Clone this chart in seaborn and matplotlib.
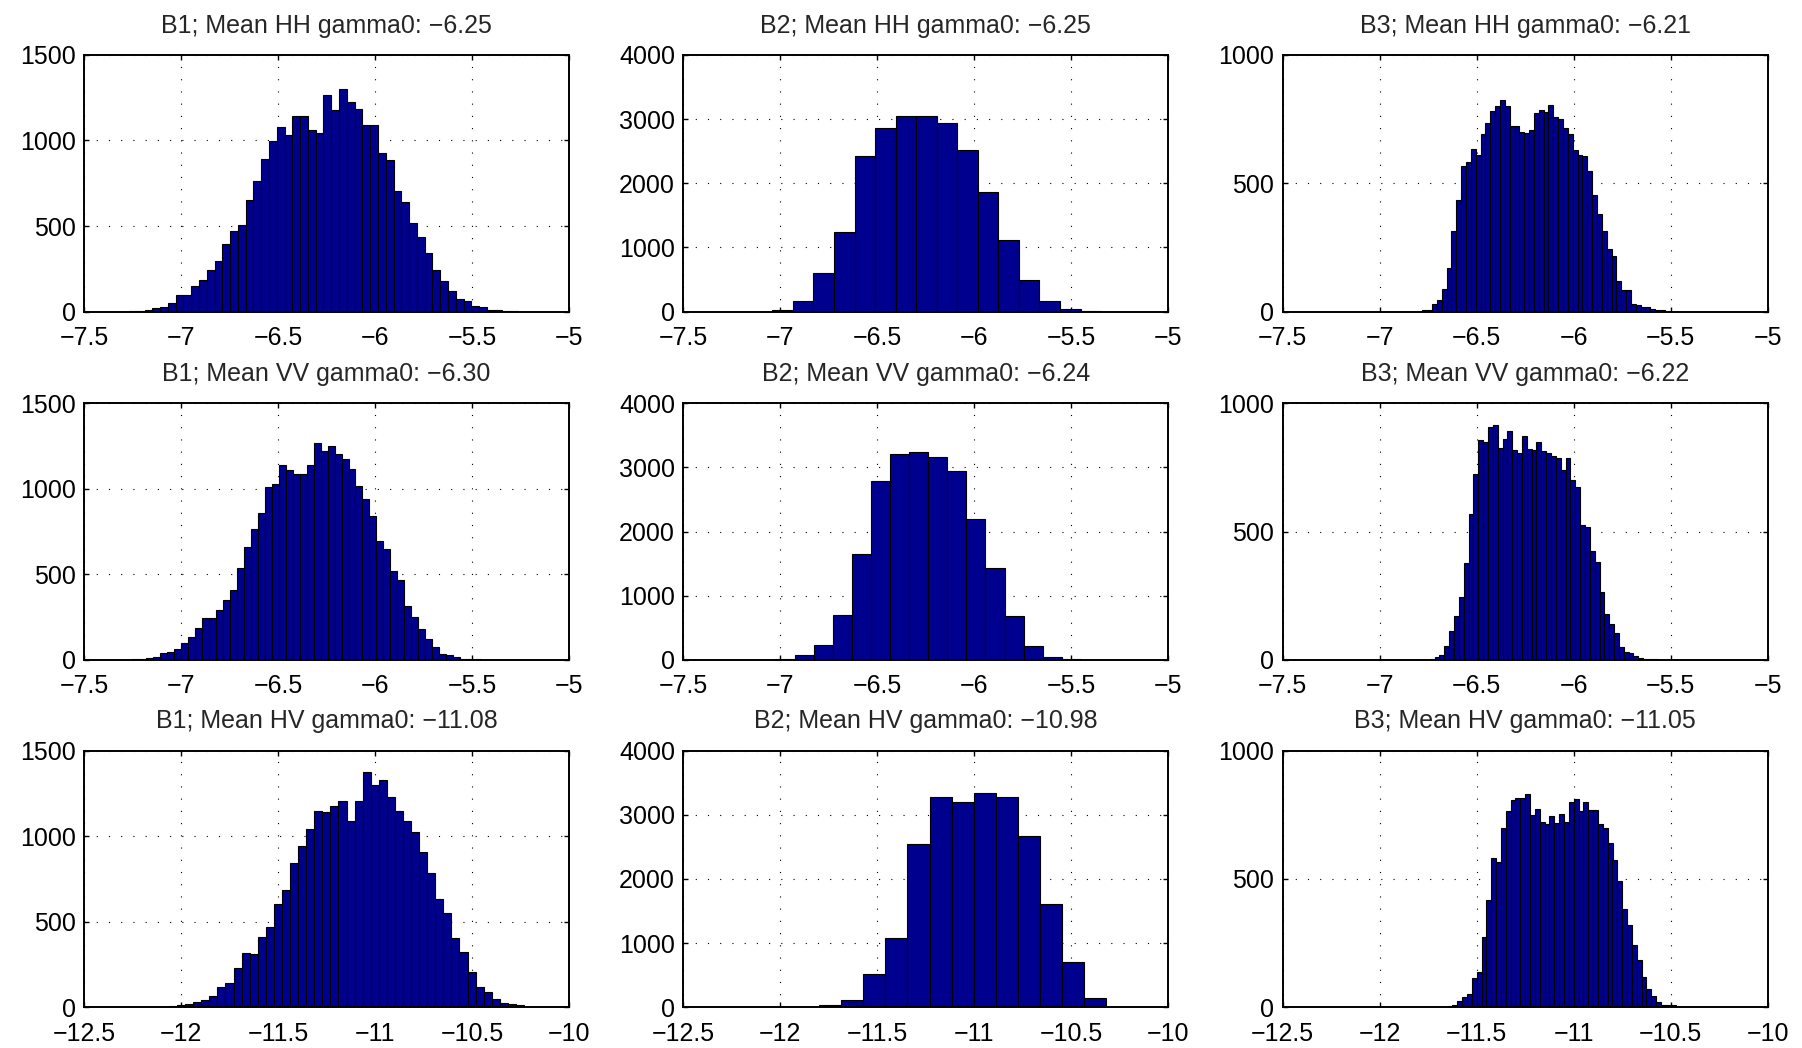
import numpy as np
import pandas as pd
import matplotlib
matplotlib.use("Agg")
import matplotlib.pyplot as plt
import seaborn as sns

# Panel titles, row by row
titles = [
    "B1; Mean HH gamma0: \u22126.25", "B2; Mean HH gamma0: \u22126.25", "B3; Mean HH gamma0: \u22126.21",
    "B1; Mean VV gamma0: \u22126.30", "B2; Mean VV gamma0: \u22126.24", "B3; Mean VV gamma0: \u22126.22",
    "B1; Mean HV gamma0: \u221211.08", "B2; Mean HV gamma0: \u221210.98", "B3; Mean HV gamma0: \u221211.05",
]

# Histogram data: left edge of first bin, bin width, counts per bin
b1_hh_start, b1_hh_width = -7.268, 0.0401
b1_hh_counts = [1, 4, 10, 20, 25, 50, 97, 97, 152, 185, 242, 298, 394, 468, 508, 651, 766, 892,
                999, 1077, 1033, 1142, 1144, 1062, 1044, 1264, 1177, 1300, 1224, 1186, 1089, 1089,
                929, 885, 705, 641, 518, 434, 341, 245, 177, 119, 74, 62, 33, 27, 10, 6, 3, 1]

b2_hh_start, b2_hh_width = -7.041, 0.1059
b2_hh_counts = [21, 166, 603, 1242, 2426, 2868, 3049, 3044, 2935, 2519, 1860, 1112, 494, 166, 36, 10]

b3_hh_start, b3_hh_width = -6.780, 0.025
b3_hh_counts = [5, 6, 30, 44, 87, 168, 314, 435, 566, 581, 635, 612, 692, 734, 783, 803, 823, 800,
                723, 723, 699, 694, 709, 774, 787, 779, 804, 757, 752, 717, 691, 631, 612, 605, 547,
                453, 381, 312, 242, 217, 118, 83, 83, 30, 26, 19, 16, 10, 6, 4, 3]

b1_vv_start, b1_vv_width = -7.251, 0.03595
b1_vv_counts = [2, 2, 10, 16, 37, 43, 66, 96, 135, 188, 246, 246, 291, 350, 406, 537, 658, 766, 857,
                1008, 1029, 1139, 1109, 1086, 1086, 1137, 1266, 1221, 1250, 1201, 1172, 1113, 1014,
                939, 840, 697, 648, 521, 469, 314, 248, 178, 121, 74, 35, 29, 16, 6, 4, 2]

b2_vv_start, b2_vv_width = -7.025, 0.0984
b2_vv_counts = [16, 73, 224, 693, 1646, 2786, 3208, 3245, 3156, 2948, 2193, 1427, 682, 214, 36, 10]

b3_vv_start, b3_vv_width = -6.792, 0.025
b3_vv_counts = [1, 1, 4, 10, 18, 52, 113, 169, 245, 376, 568, 724, 855, 849, 906, 914, 827, 861, 893,
                816, 805, 874, 820, 818, 850, 814, 807, 793, 785, 740, 785, 700, 672, 526, 517, 424,
                382, 266, 180, 138, 105, 49, 30, 27, 16, 8, 4, 4, 3, 1]

b1_hv_start, b1_hv_width = -12.2285, 0.0416
b1_hv_counts = [2, 2, 4, 4, 6, 10, 16, 29, 45, 64, 121, 140, 228, 316, 310, 413, 471, 602, 684, 844,
                941, 1042, 1149, 1142, 1177, 1204, 1089, 1204, 1375, 1297, 1331, 1231, 1147, 1087,
                1023, 906, 787, 633, 551, 403, 320, 203, 121, 88, 47, 23, 16, 10, 2]

b2_hv_start, b2_hv_width = -12.254, 0.1137
b2_hv_counts = [3, 1, 4, 10, 31, 119, 519, 1081, 2551, 3278, 3200, 3345, 3283, 2665, 1605, 706, 151, 10]

b3_hv_start, b3_hv_width = -11.675, 0.025
b3_hv_counts = [1, 4, 9, 25, 38, 52, 114, 136, 274, 417, 582, 565, 699, 765, 806, 816, 816, 830, 749,
                771, 722, 714, 744, 718, 755, 722, 801, 810, 764, 801, 770, 769, 714, 697, 639, 573,
                491, 382, 319, 243, 183, 116, 71, 44, 19, 8, 9, 9, 1]

panels = [
    (b1_hh_start, b1_hh_width, b1_hh_counts), (b2_hh_start, b2_hh_width, b2_hh_counts),
    (b3_hh_start, b3_hh_width, b3_hh_counts),
    (b1_vv_start, b1_vv_width, b1_vv_counts), (b2_vv_start, b2_vv_width, b2_vv_counts),
    (b3_vv_start, b3_vv_width, b3_vv_counts),
    (b1_hv_start, b1_hv_width, b1_hv_counts), (b2_hv_start, b2_hv_width, b2_hv_counts),
    (b3_hv_start, b3_hv_width, b3_hv_counts),
]

# Axis ticks and labels
x_ticks_copol = [-7.5, -7, -6.5, -6, -5.5, -5]
x_labels_copol = ["\u22127.5", "\u22127", "\u22126.5", "\u22126", "\u22125.5", "\u22125"]
x_ticks_cross = [-12.5, -12, -11.5, -11, -10.5, -10]
x_labels_cross = ["\u221212.5", "\u221212", "\u221211.5", "\u221211", "\u221210.5", "\u221210"]
y_ticks_b1 = [0, 500, 1000, 1500]
y_ticks_b2 = [0, 1000, 2000, 3000, 4000]
y_ticks_b3 = [0, 500, 1000]
y_ticks = [y_ticks_b1, y_ticks_b2, y_ticks_b3]

sns.set_theme(style="ticks")
plt.rcParams["font.family"] = ["Liberation Sans", "DejaVu Sans"]

W, H = 1802, 1048
fig = plt.figure(figsize=(W / 100, H / 100), dpi=100)
fig.patch.set_facecolor("white")

# axes boxes in pixels (left, top), all the same size
lefts = [84, 683.3, 1282.7]
tops = [55, 403.3, 750.7]
aw, ah = 485, 256.5

for i, (start, width, counts) in enumerate(panels):
    row, col = divmod(i, 3)
    ax = fig.add_axes([lefts[col] / W, 1 - (tops[row] + ah) / H, aw / W, ah / H])
    edges = start + width * np.arange(len(counts) + 1)
    df = pd.DataFrame({"center": (edges[:-1] + edges[1:]) / 2, "count": counts})
    sns.histplot(data=df, x="center", weights="count", bins=list(edges), ax=ax, stat="count",
                 color="#00008F", edgecolor="black", linewidth=0.8, alpha=1)
    ax.set_ylabel("")
    ax.set_xlabel("")

    if row < 2:
        ax.set_xlim(-7.5, -5)
        ax.set_xticks(x_ticks_copol)
        ax.set_xticklabels(x_labels_copol)
    else:
        ax.set_xlim(-12.5, -10)
        ax.set_xticks(x_ticks_cross)
        ax.set_xticklabels(x_labels_cross)
    yt = y_ticks[col]
    ax.set_ylim(yt[0], yt[-1])
    ax.set_yticks(yt)
    ax.set_yticklabels([str(v) for v in yt])

    ax.set_axisbelow(True)
    ax.grid(True, color="black", linestyle=(0, (1, 10)), linewidth=0.8)
    ax.tick_params(direction="in", length=3.6, width=1, top=True, right=True,
                   labelsize=18, colors="black")
    ax.tick_params(axis="y", pad=6)
    ax.tick_params(axis="x", pad=10.5)
    for s in ax.spines.values():
        s.set_visible(True)
        s.set_linewidth(1.4)
        s.set_color("black")
    ax.set_title(titles[i], fontsize=18, pad=16)

fig.savefig("out.png", dpi=100, facecolor="white")
